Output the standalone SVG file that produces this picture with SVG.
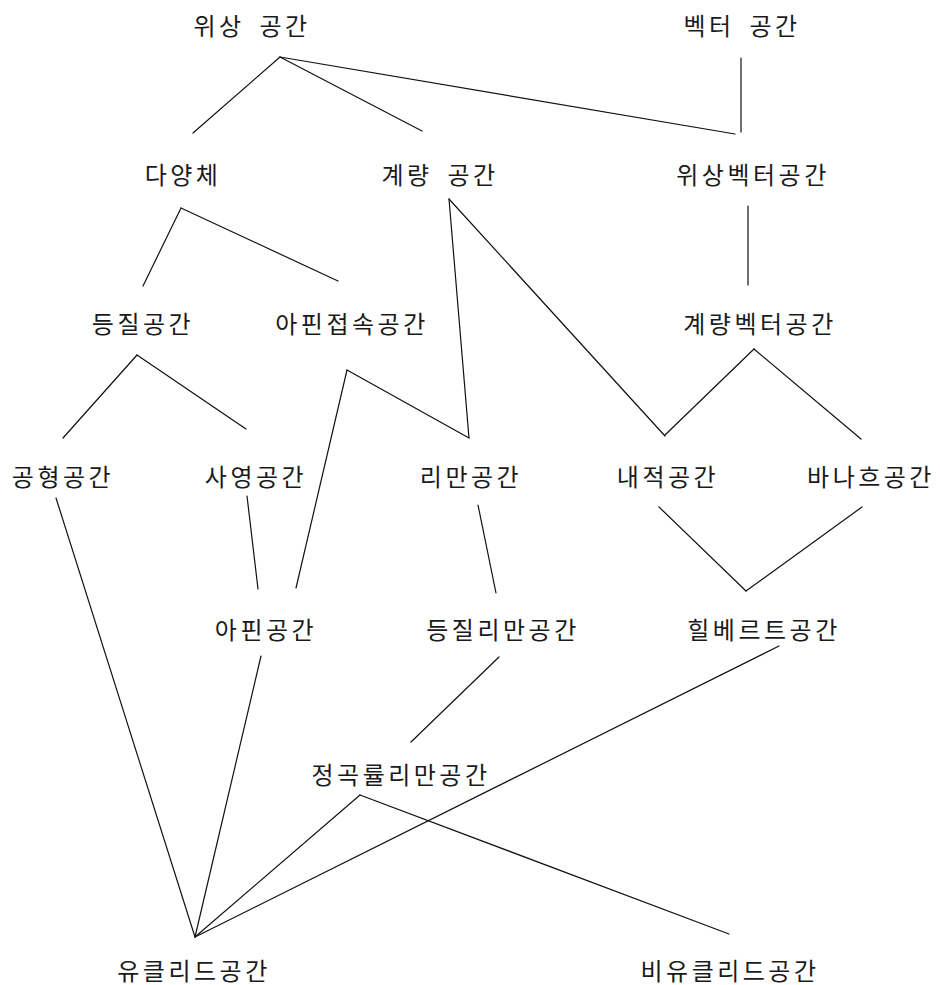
<svg xmlns="http://www.w3.org/2000/svg" width="940" height="985" viewBox="0 0 940 985">
<style>
text{font-family:"Noto Sans CJK KR","Noto Sans CJK SC",sans-serif;font-size:24px;fill:#1a1a1a;text-anchor:middle;dominant-baseline:central;letter-spacing:3.5px;word-spacing:6px}
.c line{stroke:#111;stroke-width:1.2;fill:none;stroke-linecap:round}
</style>
<rect width="940" height="985" fill="#fff"/>
<g class="c" id="connectors">
<line x1="280" y1="57" x2="193" y2="133"/>
<line x1="280" y1="57" x2="422" y2="131"/>
<line x1="280" y1="57" x2="735" y2="134"/>
<line x1="741" y1="58" x2="741" y2="132"/>
<line x1="748" y1="206" x2="748" y2="285"/>
<line x1="181" y1="208" x2="143" y2="286"/>
<line x1="181" y1="208" x2="338" y2="281"/>
<line x1="449" y1="199" x2="469" y2="438"/>
<line x1="449" y1="199" x2="665" y2="436"/>
<line x1="347" y1="370" x2="469" y2="438"/>
<line x1="347" y1="370" x2="296" y2="588"/>
<line x1="137" y1="355" x2="63" y2="438"/>
<line x1="137" y1="355" x2="246" y2="429"/>
<line x1="754" y1="349" x2="665" y2="435"/>
<line x1="754" y1="349" x2="861" y2="439"/>
<line x1="659" y1="507" x2="746" y2="591"/>
<line x1="862" y1="507" x2="746" y2="591"/>
<line x1="56" y1="498" x2="195" y2="937"/>
<line x1="247" y1="496" x2="258" y2="589"/>
<line x1="261" y1="656" x2="195" y2="937"/>
<line x1="478" y1="505" x2="496" y2="593"/>
<line x1="499" y1="657" x2="411" y2="742"/>
<line x1="779" y1="646" x2="195" y2="937"/>
<line x1="360" y1="795" x2="195" y2="937"/>
<line x1="360" y1="795" x2="729" y2="934"/>
</g>
<g id="n1"><text x="252" y="24">위상 공간</text></g>
<g id="n2"><text x="742" y="24">벡터 공간</text></g>
<g id="n3"><text x="183" y="173">다양체</text></g>
<g id="n4"><text x="440" y="173">계량 공간</text></g>
<g id="n5"><text x="753" y="173">위상벡터공간</text></g>
<g id="n6"><text x="143" y="322">등질공간</text></g>
<g id="n7"><text x="352" y="322">아핀접속공간</text></g>
<g id="n8"><text x="760" y="322">계량벡터공간</text></g>
<g id="n9"><text x="63" y="475">공형공간</text></g>
<g id="n10"><text x="256" y="475">사영공간</text></g>
<g id="n11"><text x="471" y="475">리만공간</text></g>
<g id="n12"><text x="668" y="475">내적공간</text></g>
<g id="n13"><text x="871" y="475">바나흐공간</text></g>
<g id="n14"><text x="266" y="628">아핀공간</text></g>
<g id="n15"><text x="503" y="628">등질리만공간</text></g>
<g id="n16"><text x="764" y="628">힐베르트공간</text></g>
<g id="n17"><text x="401" y="773">정곡률리만공간</text></g>
<g id="n18"><text x="194" y="969">유클리드공간</text></g>
<g id="n19"><text x="730" y="969">비유클리드공간</text></g>
</svg>
